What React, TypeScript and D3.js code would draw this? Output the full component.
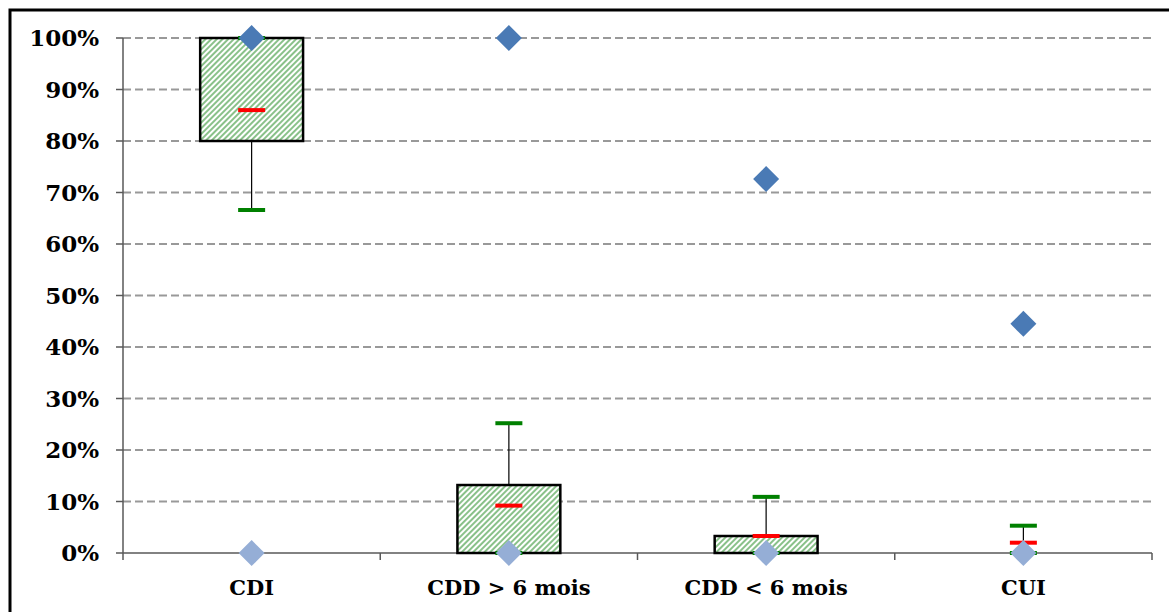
import React from "react";
import * as d3 from "d3";

const categories = ["CDI", "CDD > 6 mois", "CDD < 6 mois", "CUI"];
const whiskerLow = [66.6, 0, 0, 0];
const q1 = [80, 0, 0, 0];
const median = [86, 9.2, 3.3, 2.0];
const q3 = [100, 13.2, 3.3, 0];
const whiskerHigh = [100, 25.2, 10.9, 5.3];
const maxPoint = [100, 100, 72.6, 44.5];
const minPoint = [0, 0, 0, 0];
const yTicks = [0, 10, 20, 30, 40, 50, 60, 70, 80, 90, 100];

const W = 1169;
const H = 612;
const left = 123;
const right = 1152;
const top = 38;
const bottom = 553;

export default function App() {
  const x = d3.scaleBand<string>().domain(categories).range([left, right]).padding(0);
  const y = d3.scaleLinear().domain([0, 100]).range([bottom, top]);
  const bw = x.bandwidth();
  const boxW = bw * 0.4;
  const capW = 27;
  const dia = 13;
  const font = "'DejaVu Serif', serif";

  return (
    <svg width={W} height={H} style={{ position: "absolute", left: 0, top: 0, background: "#fff" }}>
      <defs>
        <pattern id="hatch" patternUnits="userSpaceOnUse" width="4" height="4" patternTransform="rotate(45)">
          <rect width="4" height="4" fill="#fff" />
          <line x1="1" y1="-1" x2="1" y2="5" stroke="#4aa04a" strokeWidth="1.3" />
        </pattern>
      </defs>
      {/* outer frame */}
      <rect x={10} y={10} width={W + 20} height={H + 20} fill="none" stroke="#000" strokeWidth={3} />
      {/* gridlines */}
      {yTicks.filter((t) => t > 0).map((t) => (
        <line key={"g" + t} x1={left} x2={right} y1={y(t)} y2={y(t)} stroke="#999" strokeWidth={2} strokeDasharray="8,4" />
      ))}
      {/* y axis */}
      <line x1={left} x2={left} y1={top} y2={bottom + 7} stroke="#595959" strokeWidth={1.5} />
      {yTicks.map((t) => (
        <g key={"t" + t}>
          <line x1={left - 7} x2={left} y1={y(t)} y2={y(t)} stroke="#595959" strokeWidth={1.5} />
          <text x={99} y={y(t)} dy="0.36em" textAnchor="end" fontFamily={font} fontWeight="bold" fontSize={23} fill="#000">
            {t}%
          </text>
        </g>
      ))}
      {/* x axis */}
      <line x1={left} x2={right} y1={bottom} y2={bottom} stroke="#595959" strokeWidth={1.5} />
      {categories.map((c, i) => (
        <line key={"xt" + i} x1={(x(c) as number) + bw} x2={(x(c) as number) + bw} y1={bottom} y2={bottom + 7} stroke="#595959" strokeWidth={1.5} />
      ))}
      {categories.map((c) => (
        <text key={"xl" + c} x={(x(c) as number) + bw / 2} y={587} dy="0.36em" textAnchor="middle" fontFamily={font} fontWeight="bold" fontSize={21} fill="#000">
          {c}
        </text>
      ))}
      {/* boxes */}
      {categories.map((c, i) => {
        const cx = (x(c) as number) + bw / 2;
        return (
          <g key={"b" + c}>
            <line x1={cx} x2={cx} y1={y(whiskerLow[i])} y2={y(q1[i])} stroke="#000" strokeWidth={1.2} />
            <line x1={cx} x2={cx} y1={y(q3[i])} y2={y(whiskerHigh[i])} stroke="#000" strokeWidth={1.2} />
            {q3[i] > q1[i] && (
              <rect x={cx - boxW / 2} y={y(q3[i])} width={boxW} height={y(q1[i]) - y(q3[i])} fill="url(#hatch)" stroke="#000" strokeWidth={2.5} />
            )}
            <line x1={cx - capW / 2} x2={cx + capW / 2} y1={y(whiskerLow[i])} y2={y(whiskerLow[i])} stroke="#008000" strokeWidth={4} />
            <line x1={cx - capW / 2} x2={cx + capW / 2} y1={y(whiskerHigh[i])} y2={y(whiskerHigh[i])} stroke="#008000" strokeWidth={4} />
            <line x1={cx - capW / 2} x2={cx + capW / 2} y1={y(median[i])} y2={y(median[i])} stroke="#ff0000" strokeWidth={4} />
          </g>
        );
      })}
      {/* diamonds */}
      {categories.map((c, i) => {
        const cx = (x(c) as number) + bw / 2;
        const d = (v: number) => {
          const cy = y(v);
          return `M${cx},${cy - dia} L${cx + dia},${cy} L${cx},${cy + dia} L${cx - dia},${cy} Z`;
        };
        return (
          <g key={"d" + c}>
            <path d={d(minPoint[i])} fill="#95aed6" />
            <path d={d(maxPoint[i])} fill="#4a7ab5" />
          </g>
        );
      })}
    </svg>
  );
}
